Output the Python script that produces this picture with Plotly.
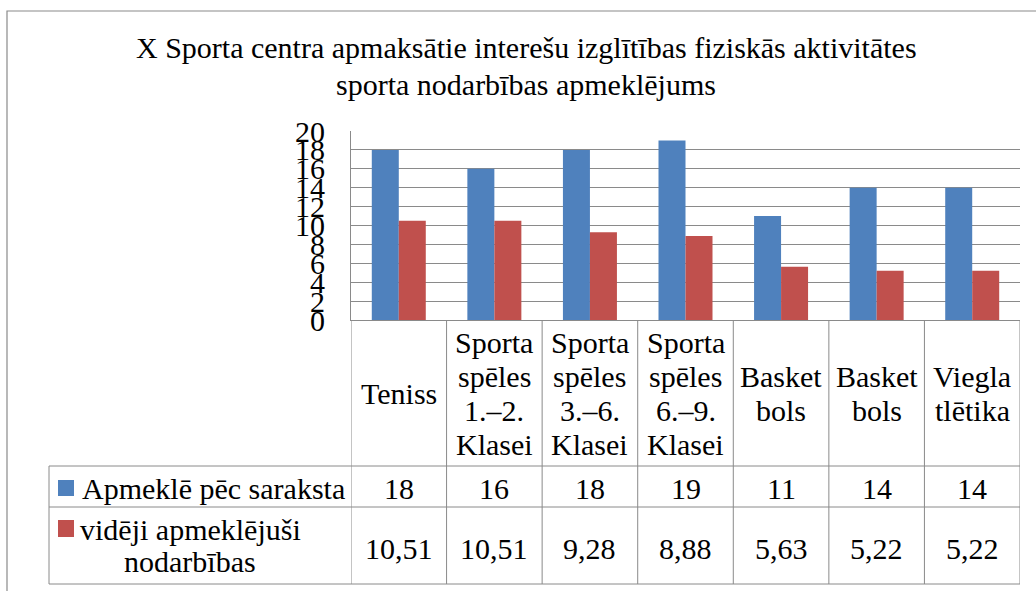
import plotly.graph_objects as go

categories = ["Teniss", "Sporta<br>spēles<br>1.–2.<br>Klasei", "Sporta<br>spēles<br>3.–6.<br>Klasei",
              "Sporta<br>spēles<br>6.–9.<br>Klasei", "Basket<br>bols", "Basket<br>bols", "Viegla<br>tlētika"]
series_names = ["Apmeklē pēc saraksta", "vidēji apmeklējuši<br>nodarbības"]
scheduled = [18, 16, 18, 19, 11, 14, 14]
average = [10.51, 10.51, 9.28, 8.88, 5.63, 5.22, 5.22]
title_text = "X Sporta centra apmaksātie interešu izglītības fiziskās aktivitātes<br>sporta nodarbības apmeklējums"
y_ticks = list(range(0, 21, 2))

BLUE = "#4F81BD"
RED = "#C0504D"
GRID = "#8a8a8a"
FONT = "Liberation Serif"
FS = 30
W, H = 1036, 591
L, R, T, B = 351, 1020, 131, 320  # plot area in pixels


def px(x):
    return (x - L) / (R - L)


def py(y):
    return (B - y) / (B - T)


xs = list(range(len(categories)))
fig = go.Figure()
fig.add_trace(go.Bar(x=xs, y=scheduled, name=series_names[0], marker=dict(color=BLUE, line=dict(width=0))))
fig.add_trace(go.Bar(x=xs, y=average, name=series_names[1], marker=dict(color=RED, line=dict(width=0))))

shapes = []
line = dict(color=GRID, width=1)
# outer chart frame
shapes.append(dict(type="rect", xref="paper", yref="paper", x0=px(7), x1=px(W + 10), y0=py(H + 10), y1=py(11),
                   line=dict(color=GRID, width=1.2)))
# vertical column dividers
for i in range(len(categories) + 1):
    shapes.append(dict(type="line", xref="x", yref="paper", x0=i - 0.5, x1=i - 0.5, y0=py(584), y1=py(320), line=line))
# horizontal table lines
for yy in [466, 507, 584]:
    shapes.append(dict(type="line", xref="paper", yref="paper", x0=px(49), x1=px(R), y0=py(yy), y1=py(yy), line=line))
shapes.append(dict(type="line", xref="paper", yref="paper", x0=px(49), x1=px(49), y0=py(584), y1=py(466), line=line))
# legend keys
for (y0, y1), col in zip([(480, 496), (520, 537)], [BLUE, RED]):
    shapes.append(dict(type="rect", xref="paper", yref="paper", x0=px(58), x1=px(74), y0=py(y1), y1=py(y0),
                       fillcolor=col, line=dict(width=0)))

ann = []
tf = dict(family=FONT, size=FS, color="black")


def add_lines(text, xref, x, center_y, spacing, xanchor="center"):
    parts = text.split("<br>")
    n = len(parts)
    for k, p in enumerate(parts):
        yy = center_y + (k - (n - 1) / 2) * spacing
        ann.append(dict(text=p, xref=xref, yref="paper", x=x, y=py(yy), showarrow=False,
                        xanchor=xanchor, yanchor="middle", font=tf))


# title
add_lines(title_text, "paper", px(526), 65.5, 37)
# category labels and table values
for i, c in enumerate(categories):
    add_lines(c, "x", i, 393, 34)
    ann.append(dict(text=str(scheduled[i]), xref="x", yref="paper", x=i, y=py(488), showarrow=False,
                    xanchor="center", yanchor="middle", font=tf))
    ann.append(dict(text=f"{average[i]:.2f}".replace(".", ","), xref="x", yref="paper", x=i, y=py(548),
                    showarrow=False, xanchor="center", yanchor="middle", font=tf))
# legend texts
ann.append(dict(text=series_names[0], xref="paper", yref="paper", x=px(80), y=py(488), showarrow=False,
                xanchor="left", yanchor="middle", font=tf))
add_lines(series_names[1], "paper", px(190), 545, 32)

fig.update_layout(
    width=W, height=H,
    margin=dict(l=L, r=W - R, t=T, b=H - B, pad=0),
    paper_bgcolor="white", plot_bgcolor="white",
    showlegend=False, barmode="group", bargap=0.435, bargroupgap=0,
    shapes=shapes, annotations=ann,
    font=dict(family=FONT, color="black"),
)
fig.update_xaxes(range=[-0.5, len(categories) - 0.5], showticklabels=False, showgrid=False, zeroline=False,
                 showline=True, linecolor=GRID, linewidth=1, fixedrange=True)
fig.update_yaxes(range=[0, 20], tickvals=y_ticks, ticktext=[str(v) for v in y_ticks], showgrid=True,
                 gridcolor=GRID, gridwidth=1, zeroline=False, showline=True, linecolor=GRID, linewidth=1,
                 ticks="", ticklabelstandoff=19, tickfont=dict(family=FONT, size=FS, color="black"),
                 fixedrange=True)

fig.write_html("out.html", config={"displayModeBar": False},
               post_script="document.body.style.margin='0px';")
